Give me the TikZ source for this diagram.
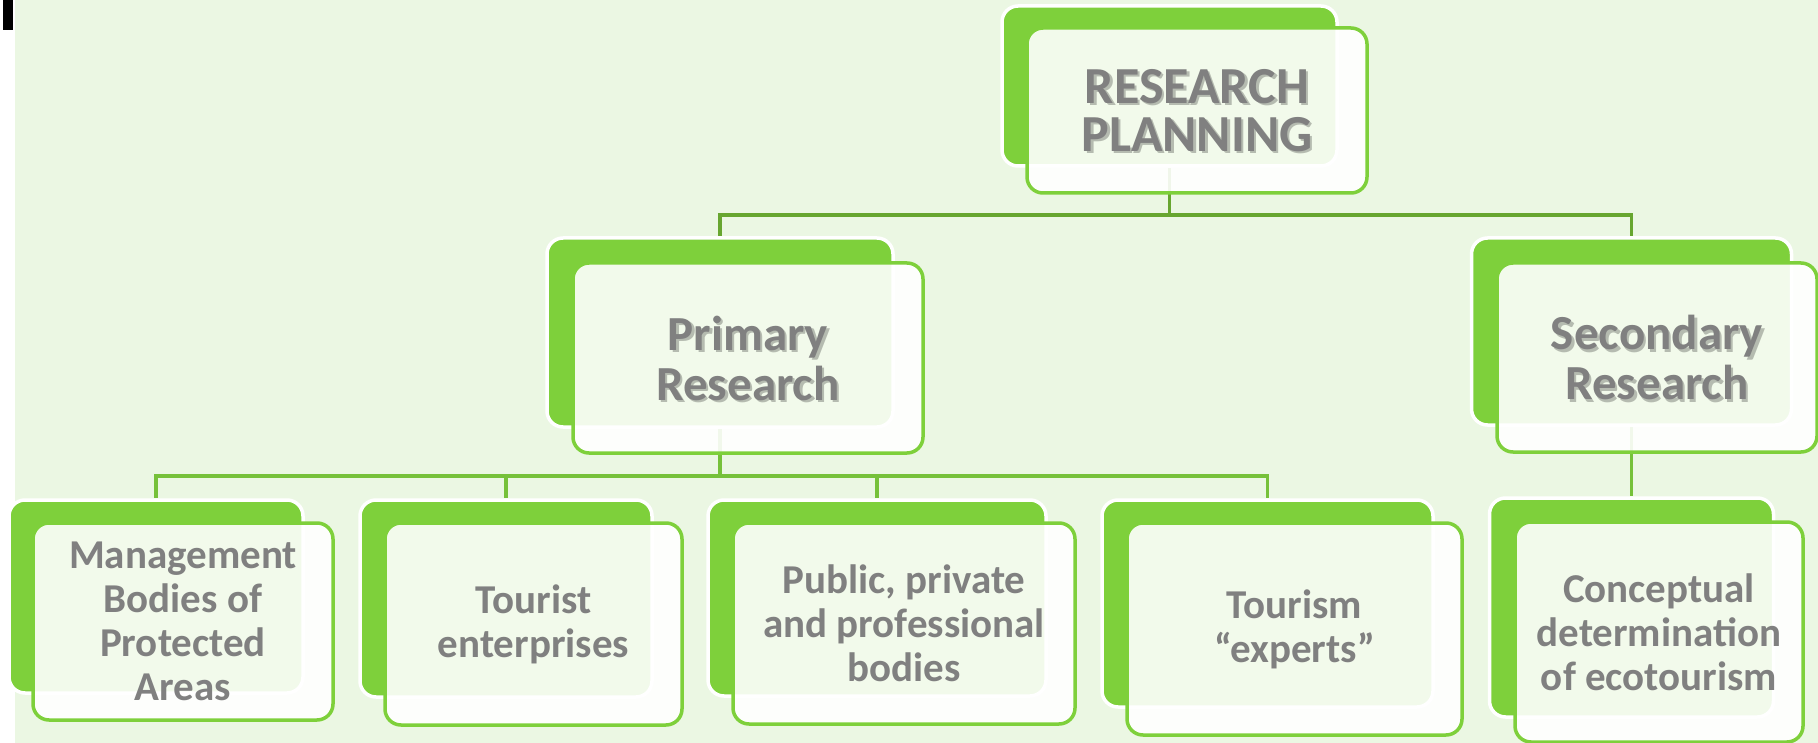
\documentclass[tikz,border=0pt]{standalone}
\usepackage{fontspec}
\setmainfont{Carlito}
\usetikzlibrary{backgrounds}

\definecolor{leaf}{RGB}{126,208,59}
\definecolor{meadow}{RGB}{235,247,227}
\definecolor{stem}{RGB}{103,166,48}
\definecolor{twig}{RGB}{118,193,58}
\definecolor{ink}{RGB}{128,128,128}

\tikzset{
	backbox/.style = {draw = white, line width = 3.5pt, fill = leaf, rounded corners = 16pt, inner sep = 0pt},
	frontbox/.style = {draw = leaf, line width = 3.5pt, fill = white, fill opacity = 0.9, text opacity = 1,
		rounded corners = 16pt, inner sep = 0pt, text = ink, align = center,
		font = \bfseries\fontsize{41}{44}\selectfont},
	headtext/.style = {text = ink, align = center, font = \bfseries\fontsize{49}{50}\selectfont},
	bigtext/.style = {headtext, font = \bfseries\fontsize{52}{48}\selectfont},
	shadowed/.style = {text = black, text opacity = 0.25},
	wire/.style = {line width = 3.5pt},
}

\begin{document}
\begin{tikzpicture}[x = 1pt, y = -1pt]

	\useasboundingbox (0, 0) rectangle (1818, 743);

	% Back boxes

	\node [backbox, minimum width = 335pt, minimum height = 160pt] (plan) at (1169.5, 86) {};
	\node [backbox, minimum width = 346pt, minimum height = 189pt] (prim) at (720, 332.5) {};
	\node [backbox, minimum width = 320pt, minimum height = 187pt] (sec) at (1631.5, 331.5) {};
	\node [backbox, minimum width = 294pt, minimum height = 193pt] (mgmt) at (156, 596.5) {};
	\node [backbox, minimum width = 292pt, minimum height = 197pt] (tour) at (506, 598.5) {};
	\node [backbox, minimum width = 338pt, minimum height = 196pt] (pub) at (877, 598) {};
	\node [backbox, minimum width = 331pt, minimum height = 207pt] (expt) at (1267.5, 603.5) {};
	\node [backbox, minimum width = 284pt, minimum height = 219pt] (conc) at (1631.5, 607.5) {};

	% Page + connectors, behind the boxes

	\coordinate (bus1) at (0, 215);
	\coordinate (bus2) at (0, 476);

	\begin{scope}[on background layer]
		\fill [white] (0, 0) rectangle (1818, 743);
		\fill [meadow] (15, 0) rectangle (1818, 743);
		\fill [black] (3, 0) rectangle (13, 30);

		\draw [wire, stem] (plan.south) -- (plan.south |- bus1) -| (prim.north);
		\draw [wire, stem] (plan.south |- bus1) -| (sec.north);

		\draw [wire, twig] (prim.south) -- (prim.south |- bus2);
		\foreach \n in {mgmt, tour, pub, expt}
			\draw [wire, twig] (prim.south |- bus2) -| (\n.north);
		\draw [wire, twig] (sec.south) -- (conc.north);
	\end{scope}

	% Front boxes

	\node [frontbox, minimum width = 340pt, minimum height = 165pt] (plan-f) at (1197, 110.5) {};
	\node [frontbox, minimum width = 350pt, minimum height = 190pt] (prim-f) at (748, 358) {};
	\node [frontbox, minimum width = 320pt, minimum height = 189pt] (sec-f) at (1657, 357.5) {};

	\node [frontbox, minimum width = 300pt, minimum height = 197pt] (mgmt-f) at (183, 621.5)
		{Management\\Bodies of\\Protected\\Areas};
	\node [frontbox, minimum width = 297pt, minimum height = 202pt] (tour-f) at (533.5, 624)
		{Tourist\\enterprises};
	\node [frontbox, minimum width = 342pt, minimum height = 201pt] (pub-f) at (904, 623.5)
		{Public, private\\and professional\\bodies};
	\node [frontbox, minimum width = 335pt, minimum height = 212pt] (expt-f) at (1294.5, 629)
		{Tourism\\``experts''};
	\node [frontbox, minimum width = 288pt, minimum height = 220pt] (conc-f) at (1659, 632)
		{Conceptual\\determination\\of ecotourism};

	% Headings with their shadows

	\node [bigtext, shadowed] (plan-s) at ([shift = {(2.5, 2.5)}] plan-f.center) {RESEARCH\\PLANNING};
	\node [bigtext] (plan-t) at (plan-f.center) {RESEARCH\\PLANNING};

	\node [headtext, shadowed] (prim-s) at ([shift = {(2.5, 2.5)}] prim-f.center) {Primary\\Research};
	\node [headtext] (prim-t) at (prim-f.center) {Primary\\Research};

	\node [headtext, shadowed] (sec-s) at ([shift = {(2.5, 2.5)}] sec-f.center) {Secondary\\Research};
	\node [headtext] (sec-t) at (sec-f.center) {Secondary\\Research};

\end{tikzpicture}
\end{document}
